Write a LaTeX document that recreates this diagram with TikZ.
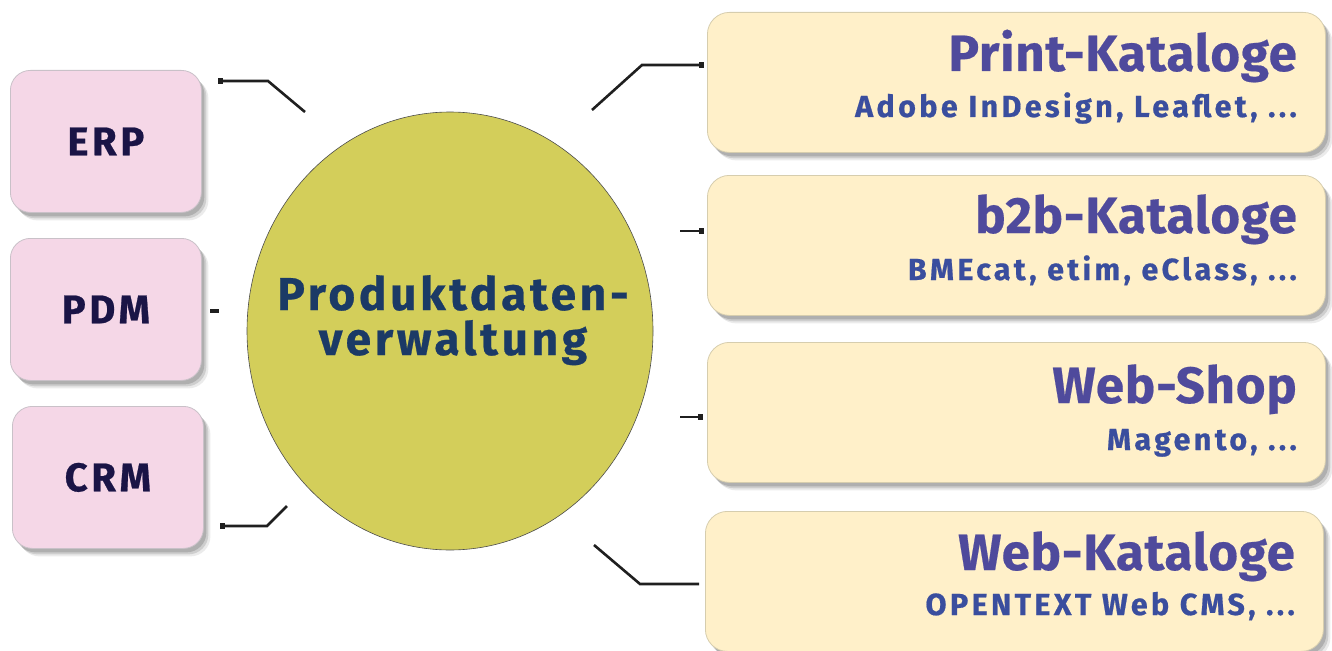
\documentclass[tikz,border=0pt]{standalone}
\usepackage{fontspec}
\setmainfont{Fira Sans}
\newfontfamily\subfont[LetterSpace=11,FakeBold=0.6]{Fira Sans}
\newfontfamily\leftfont[LetterSpace=9,FakeBold=0.6]{Fira Sans}
\newfontfamily\midfont[LetterSpace=8,FakeBold=0.6]{Fira Sans}
\newfontfamily\titlefont[LetterSpace=1.5,FakeBold=0.4]{Fira Sans}
\usetikzlibrary{shadows,arrows.meta,shapes.geometric}
\definecolor{pinkfill}{HTML}{F5D7E7}
\definecolor{pinkline}{HTML}{C9C1C8}
\definecolor{creamfill}{HTML}{FFF0C9}
\definecolor{creamline}{HTML}{D6CDAE}
\definecolor{olive}{HTML}{D3CE5A}
\definecolor{navy}{HTML}{1A1446}
\definecolor{darkblue}{HTML}{1B3A66}
\definecolor{titleblue}{HTML}{4F4A9C}
\definecolor{subblue}{HTML}{3A4E9E}
\tikzset{
  softshadow/.style={
    drop shadow={shadow xshift=7pt, shadow yshift=-8pt, fill=black, opacity=0.08},
    drop shadow={shadow xshift=5pt, shadow yshift=-6pt, fill=black, opacity=0.12},
    drop shadow={shadow xshift=3pt, shadow yshift=-4pt, fill=black, opacity=0.15}},
  leftbox/.style={draw=pinkline, line width=0.8pt, fill=pinkfill, rounded corners=20pt, softshadow, minimum width=191pt, minimum height=142pt, anchor=north west},
  rightbox/.style={draw=creamline, line width=0.8pt, fill=creamfill, rounded corners=22pt, softshadow, minimum width=618pt, minimum height=140pt, anchor=north west},
  lefttext/.style={font=\leftfont\bfseries\fontsize{40}{42}\selectfont, text=navy},
  midtext/.style={anchor=base, font=\midfont\bfseries\fontsize{46}{48}\selectfont, text=darkblue, inner sep=0pt},
  titletext/.style={anchor=base east, font=\titlefont\bfseries\fontsize{51}{55}\selectfont, text=titleblue, inner sep=0pt},
  subtext/.style={anchor=base east, font=\subfont\bfseries\fontsize{30.5}{32}\selectfont, text=subblue, inner sep=0pt},
  conn/.style={line width=2.6pt, draw=black!88, line join=miter},
  sqend/.style={-{Square[length=5pt,width=6pt]}},
}
\begin{document}
\begin{tikzpicture}[x=1pt,y=-1pt]
\useasboundingbox (0,0) rectangle (1332,650);
% left boxes
\node[leftbox] (erp) at (10,70) {};
\node[lefttext] (erpt) at (erp.center) {ERP};
\node[leftbox] (pdm) at (10,238) {};
\node[lefttext] (pdmt) at (pdm.center) {PDM};
\node[leftbox] (crm) at (12,406) {};
\node[lefttext] (crmt) at (crm.center) {CRM};
% ellipse
\node[ellipse, draw=black!70, line width=0.6pt, fill=olive, minimum width=406pt, minimum height=438pt, inner sep=0pt] (pdv) at (450,331) {};
\node[midtext] (pdv1) at (453,310) {Produktdaten-};
\node[midtext] (pdv2) at (453,355) {verwaltung};
% right boxes
\node[rightbox] (print) at (707,12) {};
\node[titletext] (printt) at (1297,71) {Print-Kataloge};
\node[subtext] (prints) at (1297,117) {Adobe InDesign, Leaflet, ...};
\node[rightbox] (b2b) at (707,175) {};
\node[titletext] (b2bt) at (1297,233) {b2b-Kataloge};
\node[subtext] (b2bs) at (1297,280) {BMEcat, etim, eClass, ...};
\node[rightbox] (shop) at (707,342) {};
\node[titletext] (shopt) at (1297,403) {Web-Shop};
\node[subtext] (shops) at (1297,450) {Magento, ...};
\node[rightbox] (webk) at (705,511) {};
\node[titletext] (webkt) at (1295,570) {Web-Kataloge};
\node[subtext] (webks) at (1295,615) {OPENTEXT Web CMS, ...};
% connector coordinates
\coordinate (c1a) at (305,112); \coordinate (c1b) at (268,81); \coordinate (c1c) at (218,81);
\coordinate (c2a) at (592,110); \coordinate (c2b) at (642,65); \coordinate (c2c) at (704,65);
\coordinate (c3a) at (680,231); \coordinate (c3b) at (704,231);
\coordinate (c4a) at (210,311); \coordinate (c4b) at (219,311);
\coordinate (c5a) at (680,417); \coordinate (c5b) at (703,417);
\coordinate (c6a) at (287,506); \coordinate (c6b) at (267,526); \coordinate (c6c) at (220,526);
\coordinate (c7a) at (594,545); \coordinate (c7b) at (640,584); \coordinate (c7c) at (699,584);
% connectors
\draw[conn, sqend] (c1a) -- (c1b) -- (c1c);
\draw[conn, sqend] (c2a) -- (c2b) -- (c2c);
\draw[conn, sqend] (c3a) -- (c3b);
\draw[line width=4pt, draw=black!88] (c4a) -- (c4b);
\draw[conn, sqend] (c5a) -- (c5b);
\draw[conn, sqend] (c6a) -- (c6b) -- (c6c);
\draw[conn] (c7a) -- (c7b) -- (c7c);
\end{tikzpicture}
\end{document}
